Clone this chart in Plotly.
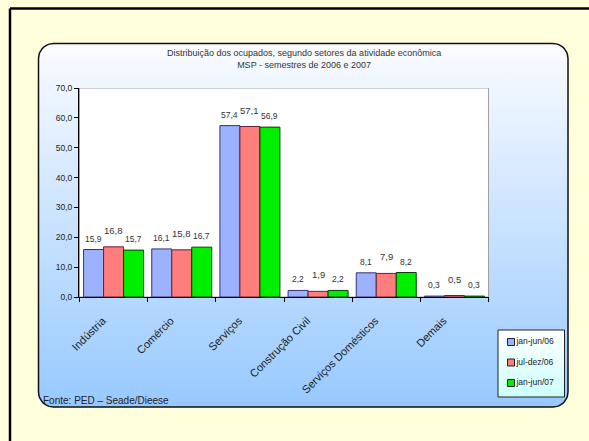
import numpy as np
import plotly.graph_objects as go

W, H = 589, 441

categories = ["Indústria", "Comércio", "Serviços", "Construção Civil", "Serviços Domésticos", "Demais"]
series_names = ["jan-jun/06", "jul-dez/06", "jan-jun/07"]
jan_jun_06 = [15.9, 16.1, 57.4, 2.2, 8.1, 0.3]
jul_dez_06 = [16.8, 15.8, 57.1, 1.9, 7.9, 0.5]
jan_jun_07 = [15.7, 16.7, 56.9, 2.2, 8.2, 0.3]
y_tick_values = [0, 10, 20, 30, 40, 50, 60, 70]

series_values = [jan_jun_06, jul_dez_06, jan_jun_07]
fill_colors = ["#9DB2FF", "#FF7D7D", "#00EE00"]
edge_colors = ["#33336B", "#66203A", "#0A3A0A"]
FONT = "Liberation Sans, Arial"

def py(y):
    return H - y

def rounded_rect(x0, y0, x1, y1, r, n=12):
    xs, ys = [], []
    corners = [
        (x1 - r, y0 + r, -90, 0),
        (x1 - r, y1 - r, 0, 90),
        (x0 + r, y1 - r, 90, 180),
        (x0 + r, y0 + r, 180, 270),
    ]
    for cx, cy, a0, a1 in corners:
        for a in np.linspace(np.radians(a0), np.radians(a1), n):
            xs.append(cx + r * np.cos(a))
            ys.append(py(cy + r * np.sin(a)))
    xs.append(xs[0]); ys.append(ys[0])
    return xs, ys

fig = go.Figure()

# background chart box with vertical gradient
bx, by = rounded_rect(38.5, 43.5, 568, 407, 15)
fig.add_trace(go.Scatter(
    x=bx, y=by, mode="lines", fill="toself",
    fillgradient=dict(type="vertical", start=py(407), stop=py(43.5),
                      colorscale=[[0, "#97C9FF"], [1, "#FBFCFF"]]),
    line=dict(color="#111111", width=1.5),
    hoverinfo="skip", showlegend=False, xaxis="x", yaxis="y"))

# legend box with gradient
lx = [498, 564.5, 564.5, 498, 498]
ly = [py(330), py(330), py(397), py(397), py(330)]
fig.add_trace(go.Scatter(
    x=lx, y=ly, mode="lines", fill="toself",
    fillgradient=dict(type="vertical", start=py(397), stop=py(330),
                      colorscale=[[0, "#CCFFFF"], [1, "#FFFFFF"]]),
    line=dict(color="#222222", width=1),
    hoverinfo="skip", showlegend=False, xaxis="x", yaxis="y"))

# legend entries
legend_rows = [342, 362.5, 383]
for name, fc, ry in zip(series_names, fill_colors, legend_rows):
    fig.add_trace(go.Scatter(
        x=[511], y=[py(ry)], mode="markers+text", text=[name],
        textposition="middle right",
        textfont=dict(family=FONT, size=8.5, color="#222222"),
        marker=dict(symbol="square", size=7, color=fc, line=dict(color="#222222", width=1)),
        hoverinfo="skip", showlegend=False, xaxis="x", yaxis="y"))

bargap = 0.12
for name, vals, fc, ec in zip(series_names, series_values, fill_colors, edge_colors):
    fig.add_trace(go.Bar(
        x=categories, y=vals, name=name,
        marker=dict(color=fc, line=dict(color=ec, width=1)),
        xaxis="x2", yaxis="y2", showlegend=False, hoverinfo="skip"))

# data labels
w = (1 - bargap) / 3
annotations = []
for j, vals in enumerate(series_values):
    for i, v in enumerate(vals):
        annotations.append(dict(
            x=i + (j - 1) * w, y=v, xref="x2", yref="y2",
            text=f"{v:.1f}".replace(".", ","), showarrow=False,
            yanchor="bottom", yshift=9 if j == 1 else 4,
            font=dict(family=FONT, size=9.5 if j == 1 else 8.5, color="#333333")))

annotations.append(dict(
    x=304 / W, y=1 - 46 / H, xref="paper", yref="paper", showarrow=False,
    text="Distribuição dos ocupados, segundo setores da atividade econômica<br>MSP - semestres de 2006 e 2007",
    yanchor="top", align="center",
    font=dict(family=FONT, size=9, color="#333333")))
annotations.append(dict(
    x=41 / W, y=1 - 400 / H, xref="paper", yref="paper", showarrow=False,
    text="Fonte: PED – Seade/Dieese", xanchor="left", yanchor="middle",
    font=dict(family=FONT, size=10, color="#222222")))

shapes = [
    dict(type="line", xref="x", yref="y", x0=10, x1=600, y0=py(8.5), y1=py(8.5),
         line=dict(color="black", width=2.5), layer="above"),
    dict(type="line", xref="x", yref="y", x0=10, x1=10, y0=py(8.5), y1=py(450),
         line=dict(color="black", width=2.5), layer="above"),
    dict(type="rect", xref="x2", yref="y2", x0=-0.5, x1=5.5, y0=0, y1=70,
         fillcolor="white", line=dict(color="#A0A0A0", width=1), layer="below"),
]

fig.update_layout(
    width=W, height=H, margin=dict(l=0, r=0, t=0, b=0, autoexpand=False),
    paper_bgcolor="#FFFFDC", plot_bgcolor="rgba(0,0,0,0)",
    separators=",.",
    barmode="group", bargap=bargap, bargroupgap=0,
    showlegend=False,
    xaxis=dict(domain=[0, 1], range=[0, W], visible=False, fixedrange=True, automargin=False),
    yaxis=dict(domain=[0, 1], range=[0, H], visible=False, fixedrange=True, automargin=False),
    xaxis2=dict(domain=[79 / W, 489 / W], anchor="y2", type="category",
                tickson="boundaries", ticks="outside", ticklen=4, tickcolor="black",
                showline=True, linecolor="black", linewidth=1, tickangle=-45,
                ticklabelstandoff=12, ticklabelshift=-11, automargin=False,
                tickfont=dict(family=FONT, size=11, color="#222222"),
                showgrid=False, fixedrange=True),
    yaxis2=dict(domain=[1 - 297 / H, 1 - 88 / H], anchor="x2", range=[0, 70],
                tickvals=y_tick_values, tickformat=".1f", ticks="outside", ticklen=4,
                tickcolor="black", showline=True, linecolor="black", linewidth=1,
                automargin=False,
                tickfont=dict(family=FONT, size=8.5, color="#222222"),
                showgrid=False, zeroline=False, fixedrange=True),
    annotations=annotations, shapes=shapes,
)

fig.write_html("out.html")
